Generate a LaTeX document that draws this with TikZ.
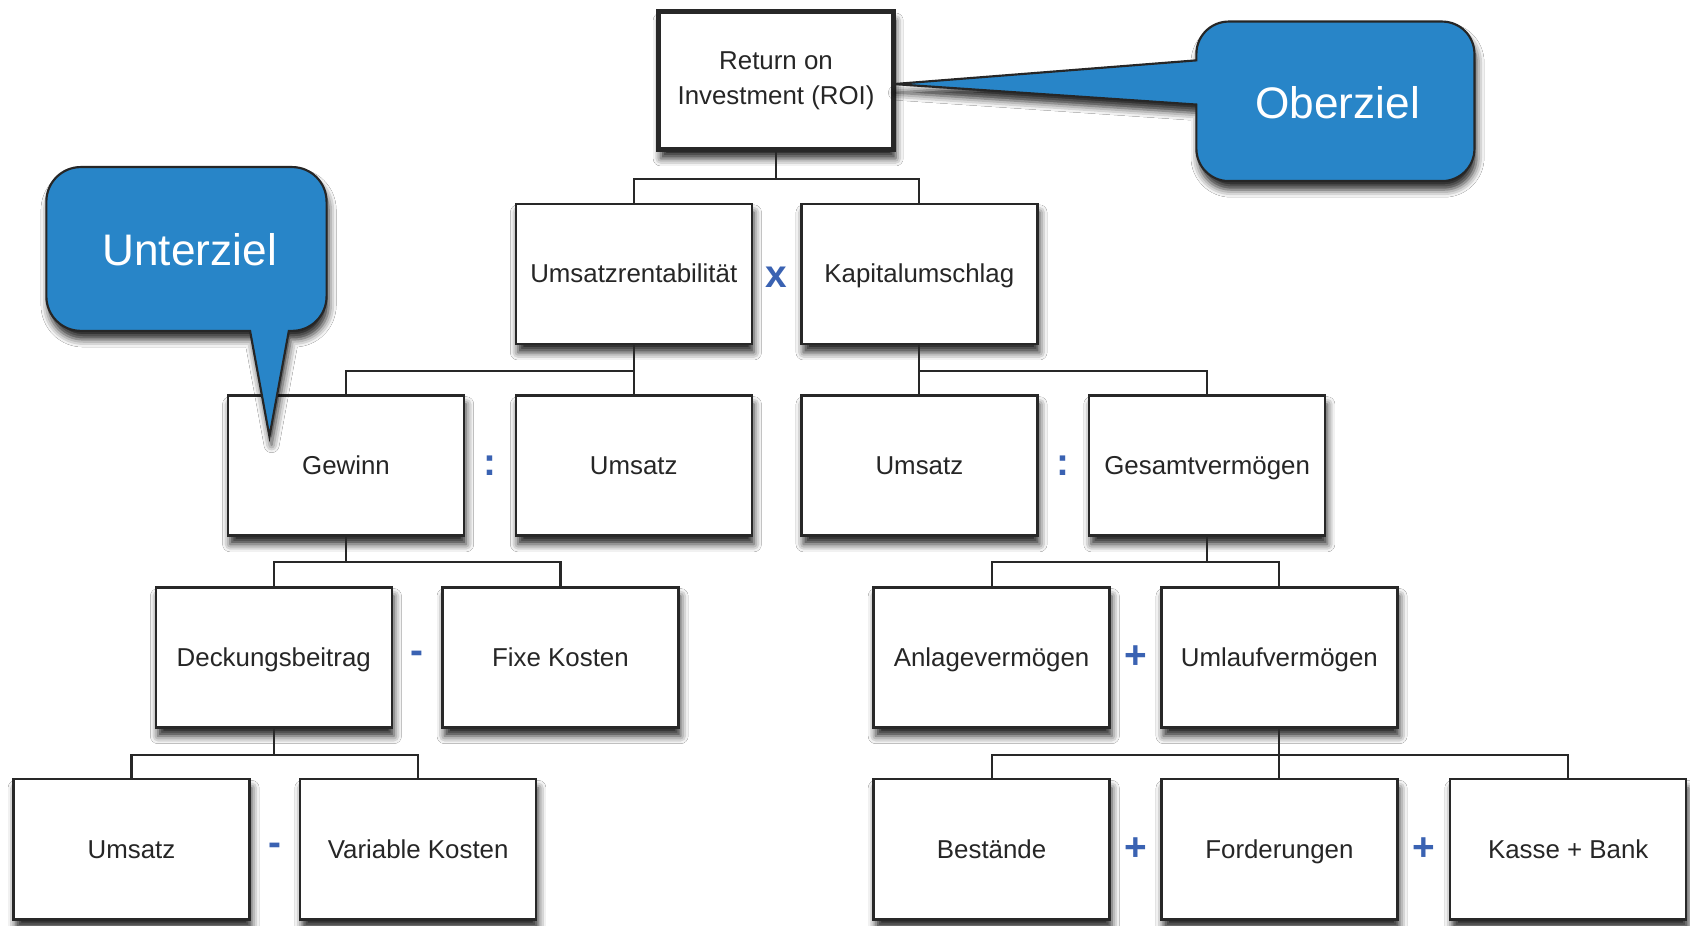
\documentclass[tikz,border=0pt]{standalone}
\usepackage{fontspec}
\setmainfont{Liberation Sans}
\usetikzlibrary{shadows.blur,calc}
\definecolor{calloutblue}{RGB}{40,133,200}
\definecolor{opblue}{RGB}{58,98,178}
\definecolor{edge}{RGB}{40,40,40}
\tikzset{
  shadowed/.style={blur shadow={shadow xshift=2pt, shadow yshift=-8pt,
      shadow blur radius=7pt, shadow opacity=85}},
  boxbase/.style={draw=edge, line width=2.2pt, fill=white, shadowed,
      minimum width=219pt, minimum height=130pt, inner sep=2pt,
      align=center, text=black!85, font=\fontsize{24}{32}\selectfont},
  box/.style={boxbase, text height=22pt, text depth=5pt},
  topbox/.style={boxbase, line width=4.5pt, minimum width=218pt, minimum height=128pt},
  link/.style={draw=edge, line width=2pt},
  op/.style={text=opblue, inner sep=0pt, font=\bfseries\fontsize{36}{36}\selectfont},
  callout/.style={draw=black!85, line width=2pt, fill=calloutblue, shadowed},
  callouttext/.style={text=white, font=\fontsize{41}{41}\selectfont}
}
\begin{document}
\begin{tikzpicture}[x=1pt, y=-1pt]
  \useasboundingbox[fill=white] (0,0) rectangle (1568,859);

  % tree of ratios
  \node[topbox] (roi)   at (720,75)  {Return on\\Investment (ROI)};
  \node[box]    (ur)    at (588,254) {Umsatzrentabilität};
  \node[box]    (kap)   at (853,254) {Kapitalumschlag};
  \node[box]    (gew)   at (321,432) {Gewinn};
  \node[box]    (ums1)  at (588,432) {Umsatz};
  \node[box]    (ums2)  at (853,432) {Umsatz};
  \node[box]    (ges)   at (1120,432) {Gesamtvermögen};
  \node[box]    (deck)  at (254,610) {Deckungsbeitrag};
  \node[box]    (fix)   at (520,610) {Fixe Kosten};
  \node[box]    (anl)   at (920,610) {Anlagevermögen};
  \node[box]    (uml)   at (1187,610) {Umlaufvermögen};
  \node[box]    (ums3)  at (122,788) {Umsatz};
  \node[box]    (var)   at (388,788) {Variable Kosten};
  \node[box]    (bes)   at (920,788) {Bestände};
  \node[box]    (ford)  at (1187,788) {Forderungen};
  \node[box]    (kasse) at (1455,788) {Kasse + Bank};

  % operators between sibling boxes
  \node[op] (opx)  at ($(ur.east)!.5!(kap.west)+(0,3)$)   {x};
  \node[op] (opd1) at ($(gew.east)!.5!(ums1.west)$)       {:};
  \node[op] (opd2) at ($(ums2.east)!.5!(ges.west)$)       {:};
  \node[op] (opm1) at ($(deck.east)!.5!(fix.west)$)       {-};
  \node[op] (opp1) at ($(anl.east)!.5!(uml.west)$)        {+};
  \node[op] (opm2) at ($(ums3.east)!.5!(var.west)$)       {-};
  \node[op] (opp2) at ($(bes.east)!.5!(ford.west)$)       {+};
  \node[op] (opp3) at ($(ford.east)!.5!(kasse.west)$)     {+};

  % connectors
  \draw[link] (roi.south) -- ++(0,25) coordinate (b1);
  \draw[link] (ur.north) |- (b1) -| (kap.north);
  \draw[link] (ur.south) -- ++(0,24) coordinate (b2);
  \draw[link] (gew.north) |- (b2) -| (ums1.north);
  \draw[link] (kap.south) -- ++(0,24) coordinate (b3);
  \draw[link] (ums2.north) |- (b3) -| (ges.north);
  \draw[link] (gew.south) -- ++(0,23) coordinate (b4);
  \draw[link] (deck.north) |- (b4) -| (fix.north);
  \draw[link] (ges.south) -- ++(0,23) coordinate (b5);
  \draw[link] (anl.north) |- (b5) -| (uml.north);
  \draw[link] (deck.south) -- ++(0,24) coordinate (b6);
  \draw[link] (ums3.north) |- (b6) -| (var.north);
  \draw[link] (uml.south) -- ++(0,24) coordinate (b7);
  \draw[link] (bes.north) |- (b7) -| (kasse.north);
  \draw[link] (b7) -- (ford.north);

  % speech bubble pointing at the top goal (corner radius 30)
  \coordinate (tipO) at ($(roi.east)+(-2,3)$);
  \path[callout] (tipO) -- (1110,97) -- (1110,138)
     .. controls (1110,154.6) and (1123.4,168) .. (1140,168) -- (1338,168)
     .. controls (1354.6,168) and (1368,154.6) .. (1368,138) -- (1368,50)
     .. controls (1368,33.4) and (1354.6,20) .. (1338,20) -- (1140,20)
     .. controls (1123.4,20) and (1110,33.4) .. (1110,50) -- (1110,56) -- cycle;
  \node[callouttext] (ober) at (1241,95) {Oberziel};

  % speech bubble pointing at a sub goal (corner radius 32)
  \coordinate (tipU) at ($(gew.center)+(-71,-27)$);
  \path[callout] (tipU) -- (232,307) -- (75,307)
     .. controls (57.3,307) and (43,292.7) .. (43,275) -- (43,187)
     .. controls (43,169.3) and (57.3,155) .. (75,155) -- (271,155)
     .. controls (288.7,155) and (303,169.3) .. (303,187) -- (303,275)
     .. controls (303,292.7) and (288.7,307) .. (271,307) -- (268,307) -- cycle;
  \node[callouttext] (unter) at (176,232) {Unterziel};
\end{tikzpicture}
\end{document}
